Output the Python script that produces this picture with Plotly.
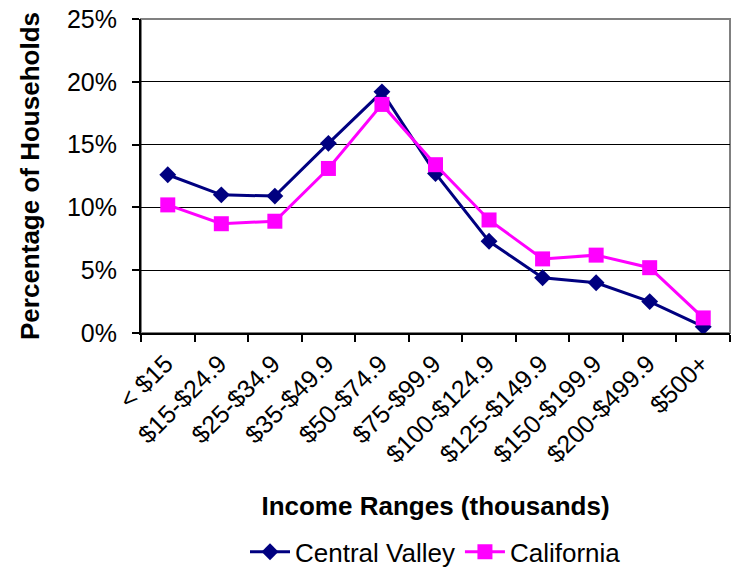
import plotly.graph_objects as go

categories = ["< $15", "$15-$24.9", "$25-$34.9", "$35-$49.9", "$50-$74.9",
              "$75-$99.9", "$100-$124.9", "$125-$149.9", "$150-$199.9",
              "$200-$499.9", "$500+"]
central_valley = [0.126, 0.110, 0.109, 0.151, 0.192, 0.127, 0.073, 0.044, 0.040, 0.025, 0.005]
california = [0.102, 0.087, 0.089, 0.131, 0.182, 0.134, 0.090, 0.059, 0.062, 0.052, 0.012]

FONT = "Liberation Sans, Arial, sans-serif"

fig = go.Figure()
fig.add_trace(go.Scatter(
    x=categories, y=central_valley, name="Central Valley", mode="lines+markers",
    line=dict(color="#000080", width=3),
    marker=dict(symbol="diamond", size=13, color="#000080"),
))
fig.add_trace(go.Scatter(
    x=categories, y=california, name="California", mode="lines+markers",
    line=dict(color="#FF00FF", width=3),
    marker=dict(symbol="square", size=15, color="#FF00FF"),
))

fig.update_layout(
    width=734, height=567,
    margin=dict(l=141, r=4, t=19, b=234, autoexpand=False),
    paper_bgcolor="white", plot_bgcolor="white",
    font=dict(family=FONT, size=26, color="black"),
    showlegend=True,
    legend=dict(orientation="h", x=0.5, xanchor="center", y=-0.697, yanchor="middle",
                font=dict(size=26), itemwidth=40, tracegroupgap=0),
    shapes=[dict(type="rect", xref="paper", yref="paper", x0=0, x1=1, y0=0, y1=1,
                 line=dict(color="#808080", width=2), layer="below")],
)
fig.update_xaxes(
    type="category", range=[-0.5, len(categories) - 0.5],
    showline=True, linecolor="black", linewidth=2,
    ticks="outside", tickson="boundaries", ticklen=7, tickcolor="black", tickwidth=2,
    tickangle=-45, tickfont=dict(size=25), ticklabelstandoff=4, ticklabelshift=-2,
    showgrid=False, zeroline=False,
    title=dict(text="<b>Income Ranges (thousands)</b>", font=dict(size=26), standoff=30),
    automargin=False,
)
fig.update_yaxes(
    range=[0, 0.25], dtick=0.05, tickformat=".0%", showline=True, linecolor="black",
    linewidth=2, ticks="outside", ticklen=7, tickcolor="black", tickwidth=2,
    showgrid=True, gridcolor="black", gridwidth=1, zeroline=False,
    tickfont=dict(size=25), ticklabelstandoff=10,
    title=dict(text="<b>Percentage of Households</b>", font=dict(size=26), standoff=20),
    automargin=False,
)

fig.write_html("out.html", config={"displayModeBar": False},
               post_script="document.body.style.margin='0';")
